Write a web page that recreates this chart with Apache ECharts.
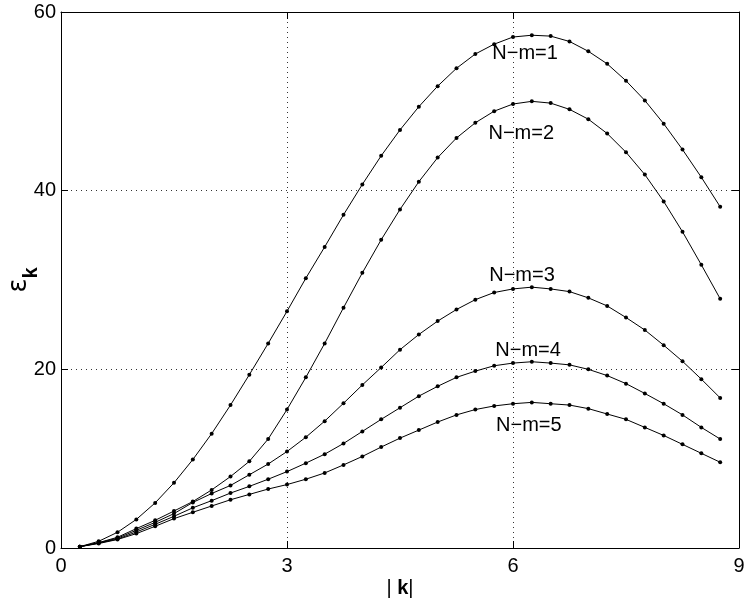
<!DOCTYPE html>
<html>
<head>
<meta charset="utf-8">
<script src="https://cdn.jsdelivr.net/npm/echarts@6/dist/echarts.min.js"></script>
<style>
html,body{margin:0;padding:0;background:#fff;}
#chart{width:746px;height:607px;}
</style>
</head>
<body>
<div id="chart"></div>
<script>
var kValues = [0.25,0.5,0.75,1.0,1.25,1.5,1.75,2.0,2.25,2.5,2.75,3.0,3.25,3.5,3.75,4.0,4.25,4.5,4.75,5.0,5.25,5.5,5.75,6.0,6.25,6.5,6.75,7.0,7.25,7.5,7.75,8.0,8.25,8.5,8.75];

var eps1 = [0.15,0.75,1.76,3.2,5.05,7.3,9.9,12.8,16.0,19.4,22.9,26.5,30.2,33.7,37.3,40.7,43.9,46.8,49.4,51.7,53.7,55.3,56.4,57.2,57.4,57.3,56.7,55.6,54.2,52.3,50.1,47.5,44.6,41.5,38.2];
var eps2 = [0.15,0.6,1.2,2.17,3.1,4.14,5.2,6.5,8.0,9.7,12.2,15.5,19.1,22.9,26.9,30.8,34.5,37.9,41.0,43.7,45.9,47.6,48.9,49.7,50.0,49.8,49.1,48.0,46.4,44.3,41.8,38.8,35.4,31.7,27.9];
var eps3 = [0.15,0.58,1.1,1.98,2.87,3.85,5.1,6.1,7.0,8.2,9.4,10.8,12.4,14.2,16.2,18.25,20.2,22.2,23.9,25.4,26.7,27.8,28.6,29.0,29.2,29.0,28.7,28.0,27.1,25.8,24.4,22.7,20.9,18.9,16.8];
var eps4 = [0.15,0.55,1.0,1.79,2.65,3.55,4.5,5.3,6.15,6.9,7.7,8.55,9.5,10.5,11.7,13.05,14.4,15.7,17.0,18.1,19.1,19.8,20.4,20.7,20.85,20.7,20.5,20.0,19.3,18.4,17.3,16.15,14.9,13.5,12.2];
var eps5 = [0.15,0.5,0.95,1.61,2.43,3.29,4.0,4.7,5.4,6.0,6.6,7.1,7.7,8.4,9.3,10.25,11.3,12.3,13.2,14.1,14.9,15.5,15.9,16.15,16.3,16.15,16.0,15.6,15.0,14.4,13.5,12.6,11.6,10.6,9.6];

var seriesNames = ['N\u2212m=1','N\u2212m=2','N\u2212m=3','N\u2212m=4','N\u2212m=5'];
var labelX = [6.16, 6.11, 6.12, 6.20, 6.21];
var labelY = [55.4, 46.35, 30.5, 22.1, 13.7];

var xTicks = [0, 3, 6, 9];
var yTicks = [0, 20, 40, 60];

var allEps = [eps1, eps2, eps3, eps4, eps5];
var FONT = '"Liberation Sans", Arial, Helvetica, sans-serif';

function pairs(ys) {
  return kValues.map(function (k, i) { return [k, ys[i]]; });
}

var series = allEps.map(function (ys, idx) {
  return {
    name: seriesNames[idx],
    type: 'line',
    data: pairs(ys),
    smooth: false,
    symbol: 'circle',
    symbolSize: 4,
    showSymbol: true,
    lineStyle: { color: '#000', width: 1 },
    itemStyle: { color: '#000', borderWidth: 0 },
    emphasis: { disabled: true },
    animation: false,
    markPoint: {
      symbol: 'circle',
      symbolSize: 0,
      silent: true,
      animation: false,
      data: [{
        coord: [labelX[idx], labelY[idx]],
        label: {
          show: true,
          position: 'inside',
          formatter: seriesNames[idx],
          color: '#000',
          fontSize: 20,
          fontFamily: FONT
        }
      }]
    }
  };
});

var gridLine = { show: true, lineStyle: { color: '#333', width: 1, type: [1, 4] } };

var option = {
  backgroundColor: '#fff',
  animation: false,
  grid: { left: 61, right: 7, top: 12, bottom: 59, containLabel: false, outerBoundsMode: 'none' },
  xAxis: [{
    type: 'value',
    min: 0, max: 9, interval: 3,
    position: 'bottom',
    name: '{n|| }{b|k}{n||}',
    nameLocation: 'middle',
    nameGap: 30,
    nameMoveOverlap: false,
    nameTextStyle: {
      rich: {
        n: { fontSize: 20, fontFamily: FONT, color: '#000' },
        b: { fontSize: 20, fontFamily: FONT, fontWeight: 'bold', color: '#000' }
      }
    },
    axisLine: { show: true, onZero: false, lineStyle: { color: '#000', width: 1 } },
    axisTick: { show: true, inside: true, length: 7, lineStyle: { color: '#000' } },
    axisLabel: {
      color: '#000', fontSize: 20, fontFamily: FONT, margin: 8,
      formatter: function (v) { return xTicks.indexOf(v) >= 0 ? String(v) : ''; }
    },
    splitLine: gridLine
  }, {
    type: 'value',
    min: 0, max: 9, interval: 3,
    position: 'top',
    axisLine: { show: true, onZero: false, lineStyle: { color: '#000', width: 1 } },
    axisTick: { show: true, inside: true, length: 7, lineStyle: { color: '#000' } },
    axisLabel: { show: false },
    splitLine: { show: false }
  }],
  yAxis: [{
    type: 'value',
    min: 0, max: 60, interval: 20,
    position: 'left',
    name: '{e|\u03b5}{k|k}',
    nameLocation: 'middle',
    nameRotate: 90,
    nameGap: 27,
    nameMoveOverlap: false,
    nameTextStyle: {
      rich: {
        e: { fontSize: 26, fontFamily: '"DejaVu Sans", sans-serif', color: '#000', verticalAlign: 'top', lineHeight: 28 },
        k: { fontSize: 20, fontFamily: FONT, fontWeight: 'bold', color: '#000', verticalAlign: 'top', lineHeight: 22, padding: [15, 0, 0, 0] }
      }
    },
    axisLine: { show: true, onZero: false, lineStyle: { color: '#000', width: 1 } },
    axisTick: { show: true, inside: true, length: 7, lineStyle: { color: '#000' } },
    axisLabel: {
      color: '#000', fontSize: 20, fontFamily: FONT, margin: 5,
      formatter: function (v) { return yTicks.indexOf(v) >= 0 ? String(v) : ''; }
    },
    splitLine: gridLine
  }, {
    type: 'value',
    min: 0, max: 60, interval: 20,
    position: 'right',
    axisLine: { show: true, onZero: false, lineStyle: { color: '#000', width: 1 } },
    axisTick: { show: true, inside: true, length: 7, lineStyle: { color: '#000' } },
    axisLabel: { show: false },
    splitLine: { show: false }
  }],
  series: series
};

var chart = echarts.init(document.getElementById('chart'), null, { renderer: 'canvas' });
chart.setOption(option);
</script>
</body>
</html>
